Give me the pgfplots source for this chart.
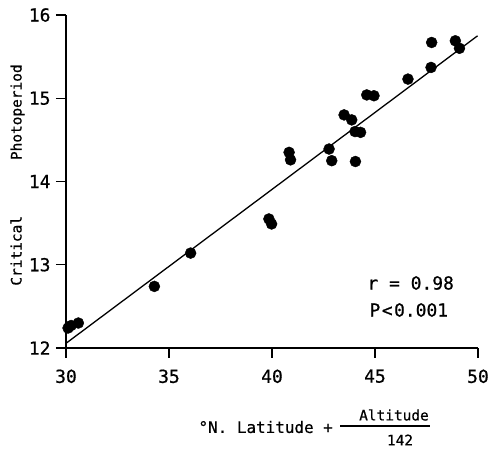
\documentclass[border=0pt]{standalone}
\usepackage{pgfplots}
\pgfplotsset{compat=1.18}
\usepackage{fontspec}
\setmainfont{DejaVu Sans Mono}[FakeBold=0.7]

\begin{document}
\begin{tikzpicture}
\begin{axis}[
    scale only axis,
    width=412bp, height=333bp,
    xmin=30, xmax=50, ymin=12, ymax=16,
    axis x line*=bottom, axis y line*=left,
    axis line style={line width=1.6bp},
    xtick={30,35,...,50}, ytick={12,13,...,16},
    tick align=outside,
    major tick length=10bp,
    tick style={line width=1.2bp, black},
    /pgf/number format/assume math mode=true,
    ticklabel style={font=\fontsize{18}{20}\selectfont},
    xticklabel style={yshift=-8bp},
    yticklabel style={xshift=-2bp},
    clip=false,
]
% observations
\addplot[only marks, mark=*, mark size=5.5bp, black] coordinates {
    (30.1,12.24) (30.25,12.27) (30.6,12.30)
    (34.29,12.74) (36.05,13.14)
    (39.85,13.55) (39.98,13.49)
    (40.83,14.35) (40.9,14.26)
    (42.77,14.39) (42.9,14.25)
    (43.5,14.80) (43.87,14.74)
    (44.03,14.60) (44.3,14.59) (44.05,14.24)
    (44.6,15.04) (44.95,15.03)
    (46.6,15.23) (47.72,15.37) (47.75,15.67)
    (48.9,15.69) (49.1,15.60)
};
% regression line
\addplot[black, line width=1.3bp] coordinates {(30,12.056) (49.98,15.75)};
\end{axis}
% labels (origin = lower left corner of the axis)
\node[rotate=90, font=\fontsize{14.5}{16}\selectfont] at (-48.5bp,173bp)
    {Critical\hspace{56bp}Photoperiod};
\node[anchor=west, font=\fontsize{16}{18}\selectfont] at (129bp,-79bp)
    {°N. Latitude +};
\draw[line width=1.3bp] (274bp,-78bp) -- (364bp,-78bp);
\node[font=\fontsize{14.5}{16}\selectfont] at (328bp,-67bp) {Altitude};
\node[font=\fontsize{14.5}{16}\selectfont] at (334bp,-92bp) {142};
\node[anchor=west, font=\fontsize{18}{20}\selectfont] at (298bp,65bp) {r = 0.98};
\node[anchor=west, font=\fontsize{18}{20}\selectfont] at (300bp,38bp)
    {P\kern1.5bp<\kern1.5bp0.001};
\path (-66bp,-98bp) rectangle (432bp,348bp);
\end{tikzpicture}
\end{document}
